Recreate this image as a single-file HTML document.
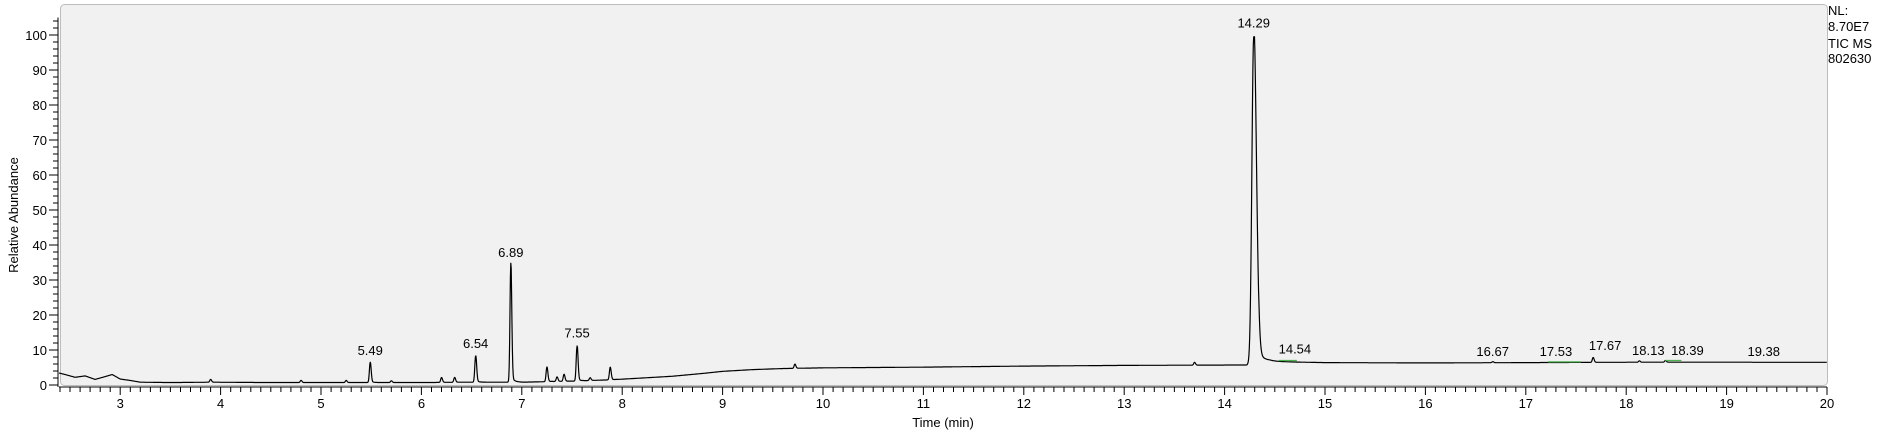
<!DOCTYPE html>
<html><head><meta charset="utf-8"><style>
html,body{margin:0;padding:0;background:#fff;width:1878px;height:434px;overflow:hidden}
svg text{font-family:"Liberation Sans",Arial,sans-serif;fill:#000}
</style></head><body>
<svg id="chart" width="1878" height="434" viewBox="0 0 1878 434" xmlns="http://www.w3.org/2000/svg">
<rect x="60.5" y="4.5" width="1767" height="381" rx="4" fill="#f1f1f1" stroke="#bdbdbd" stroke-width="1"/>
<g id="axes"></g>
<g id="trace"></g>
<g id="labels"></g>
<text transform="translate(18,215) rotate(-90)" text-anchor="middle" font-size="13">Relative Abundance</text>
<text x="943" y="427" text-anchor="middle" font-size="13">Time (min)</text>
<g font-size="13">
<text x="1828" y="15">NL:</text>
<text x="1828" y="31">8.70E7</text>
<text x="1828" y="48">TIC  MS</text>
<text x="1828" y="63">802630</text>
</g>
</svg>
<script>
const baseTimes=[2.38,2.45,2.55,2.65,2.75,2.85,2.92,3.0,3.1,3.2,3.5,3.9,4.5,5.0,5.5,6.0,6.5,7.0,7.5,7.9,8.2,8.5,8.8,9.0,9.3,9.6,10.0,11.0,12.0,13.0,14.0,14.22,14.45,14.6,15.0,16.0,17.0,18.0,19.0,20.0];
const baseValues=[3.5,3.0,2.2,2.6,1.6,2.4,3.0,1.7,1.3,0.8,0.7,0.8,0.7,0.7,0.7,0.7,0.8,0.8,1.1,1.5,2.0,2.5,3.3,3.9,4.4,4.7,4.9,5.1,5.4,5.6,5.7,5.7,6.6,6.6,6.4,6.3,6.4,6.5,6.5,6.5];
const peakTimes=[3.9,4.8,5.25,5.49,5.7,6.2,6.33,6.54,6.89,7.25,7.35,7.42,7.55,7.68,7.88,9.72,13.7,14.29,16.67,17.67,18.13,18.39];
const peakHeights=[0.8,0.6,0.6,5.8,0.5,1.4,1.4,7.5,34,4.2,1.3,2,10,0.8,3.6,1.2,0.8,93.5,0.3,1.4,0.4,0.5];
const labelTexts=["5.49","6.54","6.89","7.55","14.29","14.54","16.67","17.53","17.67","18.13","18.39","19.38"];
const labelTimes=[5.49,6.54,6.89,7.55,14.29,14.70,16.67,17.30,17.79,18.22,18.61,19.37];
const labelLevels=[7.5,9.5,35.5,12.5,101,7.8,7.2,7.2,8.8,7.5,7.5,7.2];
const xTickLabels=[3,4,5,6,7,8,9,10,11,12,13,14,15,16,17,18,19,20];
const yTickLabels=[0,10,20,30,40,50,60,70,80,90,100];

const X0=2.39,X1=20,PX0=59,PX1=1827,PY0=385,PY100=35;
const xs=t=>PX0+(t-X0)/(X1-X0)*(PX1-PX0);
const ys=v=>PY0-v*(PY0-PY100)/100;
const NS="http://www.w3.org/2000/svg";
function mk(tag,attrs,parent){const e=document.createElementNS(NS,tag);for(const k in attrs)e.setAttribute(k,attrs[k]);parent.appendChild(e);return e;}

const axes=document.getElementById('axes');
let d=`M${PX0},${PY0+2}H${PX1}M${PX0-1},${PY0+2}V${ys(105)}`;
for(let i=24;i<=200;i++){const t=i/10;const x=xs(t);if(x<PX0-0.5)continue;const major=i%10===0;d+=`M${x.toFixed(1)},${PY0+2}v${major?8:5}`;}
for(let v=0;v<=104;v+=2){const y=ys(v);d+=`M${PX0-1},${y.toFixed(1)}h${v%10===0?-9:-5}`;}
const ax=mk('path',{d:d,stroke:'#000','stroke-width':1,fill:'none'},axes);


xTickLabels.forEach(t=>{const e=mk('text',{x:xs(t),y:408,'text-anchor':'middle','font-size':13},axes);e.textContent=t;

});
yTickLabels.forEach(v=>{const e=mk('text',{x:47,y:ys(v)+5,'text-anchor':'end','font-size':13},axes);e.textContent=v;

});

function base(t){for(let i=0;i<baseTimes.length-1;i++){if(t<=baseTimes[i+1]){const f=(t-baseTimes[i])/(baseTimes[i+1]-baseTimes[i]);return baseValues[i]+f*(baseValues[i+1]-baseValues[i]);}}return baseValues[baseValues.length-1];}
function signal(t){let s=base(t);for(let i=0;i<peakTimes.length;i++){const big=peakHeights[i]>50;const sg=big?0.018:0.008;const dt=t-peakTimes[i];let g;
if(dt<=0)g=Math.exp(-dt*dt/(2*sg*sg));else{g=Math.exp(-dt*dt/(2*sg*sg*(big?2.2:1.4)))+(big?0.06*Math.exp(-dt/0.07):0.05*Math.exp(-dt/0.03));g=Math.min(1,g);}
s+=peakHeights[i]*g;}return s;}
let p='';for(let t=X0;t<=X1;t+=0.004){p+=(p?'L':'M')+xs(t).toFixed(1)+','+ys(signal(t)).toFixed(1);}
const tr=mk('path',{d:p,stroke:'#000','stroke-width':1.2,fill:'none','stroke-linejoin':'round'},document.getElementById('trace'));



const lab=document.getElementById('labels');
[[14.54,14.72,7.0],[17.22,17.55,6.6],[18.39,18.55,7.0]].forEach(s=>{const g=mk('line',{x1:xs(s[0]),x2:xs(s[1]),y1:ys(s[2]),y2:ys(s[2]),stroke:'#4caf50','stroke-width':1.2},lab);

});
labelTexts.forEach((txt,i)=>{const e=mk('text',{x:xs(labelTimes[i]),y:ys(labelLevels[i])-4,'text-anchor':'middle','font-size':13},lab);e.textContent=txt;

});
</script>
</body></html>
